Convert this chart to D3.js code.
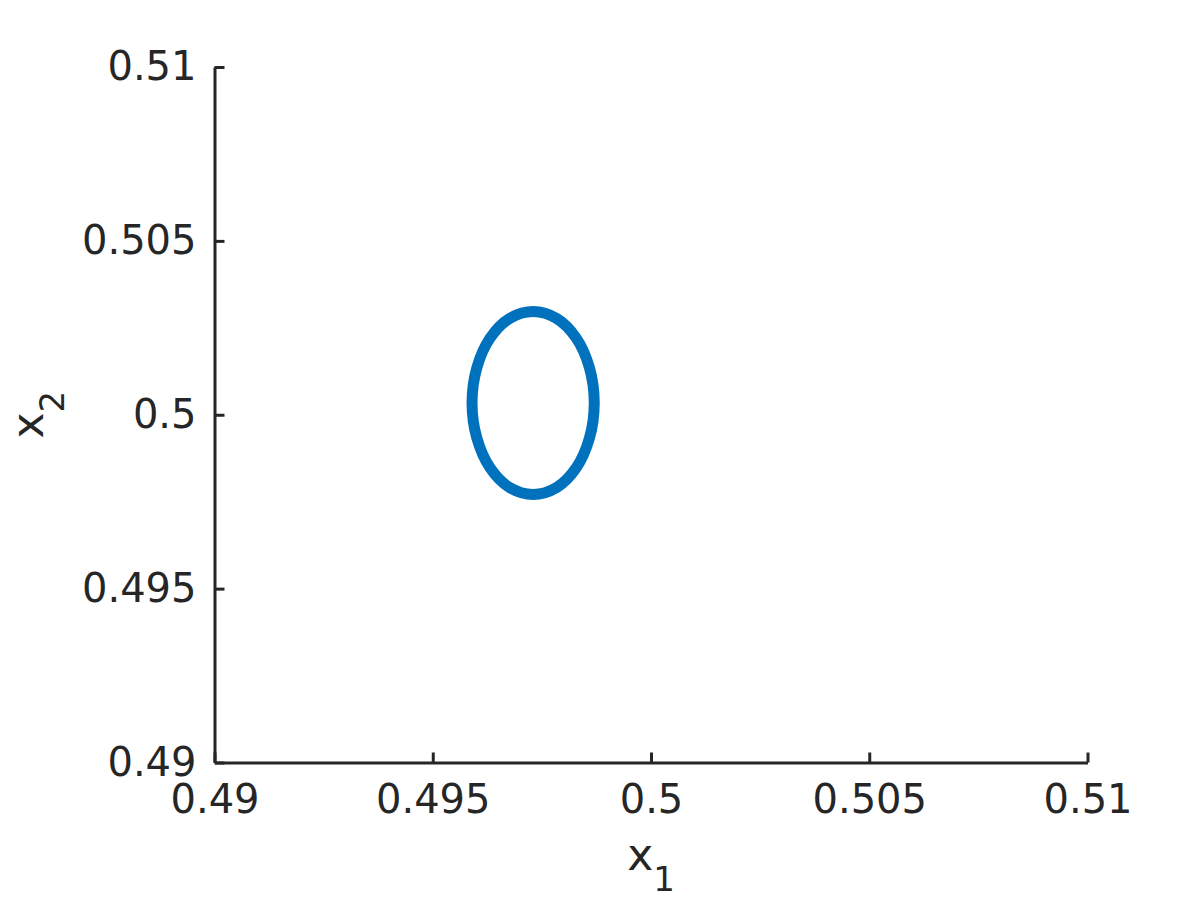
<!DOCTYPE html>
<html>
<head>
<meta charset="utf-8">
<script src="https://cdn.jsdelivr.net/npm/d3@7"></script>
<style>
  html, body { margin: 0; padding: 0; background: #fff; }
  text { font-family: "DejaVu Sans", sans-serif; fill: #262626; }
</style>
</head>
<body>
<svg id="chart" width="1200" height="900"></svg>
<script>
// axis ranges and ticks
const xDomain = [0.49, 0.51];
const yDomain = [0.49, 0.51];
const xTicks = [0.49, 0.495, 0.5, 0.505, 0.51];
const yTicks = [0.49, 0.495, 0.5, 0.505, 0.51];
const xTickLabels = ['0.49', '0.495', '0.5', '0.505', '0.51'];
const yTickLabels = ['0.49', '0.495', '0.5', '0.505', '0.51'];

// points read around the closed curve
const curveX = [0.4987, 0.49859, 0.49829, 0.49784, 0.4973, 0.49676, 0.49631, 0.49601,
                0.4959, 0.49601, 0.49631, 0.49676, 0.4973, 0.49784, 0.49829, 0.49859];
const curveY = [0.50034, 0.50135, 0.5022, 0.50277, 0.50297, 0.50277, 0.5022, 0.50135,
                0.50034, 0.49933, 0.49848, 0.49791, 0.49771, 0.49791, 0.49848, 0.49933];

function renderChart() {
  const svg = d3.select('#chart');
  const margin = {left: 214.5, right: 112.5, top: 67, bottom: 137.5};
  const width = 1200, height = 900;
  const chartWidth = width - margin.left - margin.right;
  const chartHeight = height - margin.top - margin.bottom;
  const axisColor = '#262626';

  const g = svg.append('g').attr('transform', `translate(${margin.left},${margin.top})`);

  // Scales
  const x = d3.scaleLinear().domain(xDomain).range([0, chartWidth]);
  const y = d3.scaleLinear().domain(yDomain).range([chartHeight, 0]);

  // Curve
  const pts = curveX.map((d, i) => [d, curveY[i]]);
  g.append('path')
    .datum(pts)
    .attr('fill', 'none')
    .attr('stroke', '#0072BD')
    .attr('stroke-width', 11)
    .attr('d', d3.line()
      .x(d => x(d[0]))
      .y(d => y(d[1]))
      .curve(d3.curveCatmullRomClosed)
    );

  // X Axis (ticks inward)
  const xAxis = g.append('g')
    .attr('transform', `translate(0,${chartHeight})`)
    .call(d3.axisBottom(x)
      .tickValues(xTicks)
      .tickFormat((d, i) => xTickLabels[i])
      .tickSizeInner(-10)
      .tickSizeOuter(0)
      .tickPadding(22));
  xAxis.select('.domain').attr('stroke', axisColor).attr('stroke-width', 3);
  xAxis.selectAll('.tick line').attr('stroke', axisColor).attr('stroke-width', 3);
  xAxis.selectAll('.tick text')
    .attr('font-size', '40px')
    .attr('font-family', '"DejaVu Sans", sans-serif')
    .attr('fill', axisColor);

  // Y Axis (ticks inward)
  const yAxis = g.append('g')
    .call(d3.axisLeft(y)
      .tickValues(yTicks)
      .tickFormat((d, i) => yTickLabels[i])
      .tickSizeInner(-10)
      .tickSizeOuter(0)
      .tickPadding(18));
  yAxis.select('.domain').attr('stroke', axisColor).attr('stroke-width', 3);
  yAxis.selectAll('.tick line').attr('stroke', axisColor).attr('stroke-width', 3);
  yAxis.selectAll('.tick text')
    .attr('font-size', '40px')
    .attr('font-family', '"DejaVu Sans", sans-serif')
    .attr('fill', axisColor);

  // Axis labels
  const xl = svg.append('text')
    .attr('x', margin.left + chartWidth / 2)
    .attr('y', 870)
    .attr('text-anchor', 'middle')
    .attr('font-size', '44px');
  xl.append('tspan').text('x');
  xl.append('tspan').attr('dy', 21).attr('font-size', '34px').text('1');

  const yl = svg.append('text')
    .attr('transform', `translate(43,${margin.top + chartHeight / 2}) rotate(-90)`)
    .attr('text-anchor', 'middle')
    .attr('font-size', '44px');
  yl.append('tspan').text('x');
  yl.append('tspan').attr('dy', 21).attr('font-size', '34px').text('2');
}

renderChart();
</script>
</body>
</html>
